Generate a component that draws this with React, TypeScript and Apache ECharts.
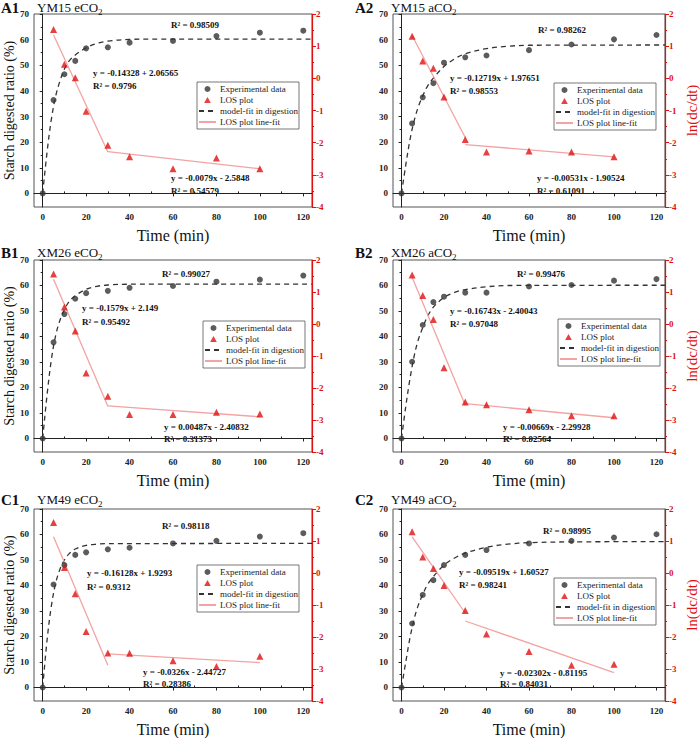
import React, { useEffect, useRef } from 'react';
import * as echarts from 'echarts';

// ---------- data ----------
const TIMES = [0, 5, 10, 15, 20, 30, 40, 60, 80, 100, 120];
const LOS_TIMES = [5, 10, 15, 20, 30, 40, 60, 80, 100];
const X_TICKS = [0, 20, 40, 60, 80, 100, 120];
const X_MINOR = [10, 30, 50, 70, 90, 110];
const LEFT_TICKS = [0, 10, 20, 30, 40, 50, 60, 70];
const LEFT_MINOR = [5, 15, 25, 35, 45, 55, 65];
const RIGHT_TICKS = [-4, -3, -2, -1, 0, 1, 2];
const RIGHT_MINOR = [-3.5, -2.5, -1.5, -0.5, 0.5, 1.5];
const LEGEND_NAMES = ['Experimental data', 'LOS plot', 'model-fit in digestion', 'LOS plot line-fit'];

// A1 YM15 eCO2
const A1_DIGEST = [0, 36.4, 46.5, 51.7, 56.6, 57.0, 58.8, 59.5, 61.4, 62.7, 63.5];
const A1_LOS = [1.52, 0.44, 0.02, -1.02, -2.08, -2.44, -2.81, -2.48, -2.81];
const A1_FIT1 = [[5, 1.35], [30, -2.29]];
const A1_FIT2 = [[30, -2.28], [100, -2.81]];
const A1_MODEL_T = [0, 2, 4, 6, 8, 10, 12, 15, 20, 25, 30, 40, 50, 124];
const A1_MODEL = [0, 16, 29, 38, 44, 48.5, 51.5, 54, 56.8, 58.5, 59.4, 60.1, 60.2, 60.2];

// A2 YM15 aCO2
const A2_DIGEST = [0, 27.3, 37.5, 43, 51, 53.1, 53.8, 55.9, 58.1, 60.1, 61.8];
const A2_LOS = [1.31, 0.54, 0.31, -0.58, -1.9, -2.29, -2.26, -2.29, -2.44];
const A2_FIT1 = [[5, 1.33], [30, -1.84]];
const A2_FIT2 = [[30, -2.06], [100, -2.44]];
const A2_MODEL_T = [0, 2, 4, 6, 8, 10, 12, 15, 20, 25, 30, 40, 50, 60, 124];
const A2_MODEL = [0, 11, 21, 28.5, 34, 38, 41.5, 45, 49.5, 52.5, 54.5, 56.5, 57.4, 57.8, 57.9];

// B1 XM26 eCO2
const B1_DIGEST = [0, 37.7, 48.8, 54.8, 57, 57.9, 59.1, 59.8, 61.5, 62.3, 63.9];
const B1_LOS = [1.56, 0.53, -0.22, -1.53, -2.26, -2.83, -2.83, -2.76, -2.81];
const B1_FIT1 = [[5, 1.4], [30, -2.57]];
const B1_FIT2 = [[30, -2.56], [100, -2.9]];
const B1_MODEL_T = [0, 2, 4, 6, 8, 10, 12, 15, 20, 25, 30, 40, 124];
const B1_MODEL = [0, 17, 31, 40.5, 46.5, 50.5, 53.5, 56, 58.5, 59.7, 60.2, 60.5, 60.5];

// B2 XM26 aCO2
const B2_DIGEST = [0, 30.1, 44.5, 53.5, 55.6, 57.2, 57.2, 59.6, 60.2, 61.9, 62.5];
const B2_LOS = [1.53, 0.89, 0.14, -1.37, -2.44, -2.52, -2.68, -2.87, -2.87];
const B2_FIT1 = [[5, 1.46], [30, -2.54]];
const B2_FIT2 = [[30, -2.49], [100, -2.93]];
const B2_MODEL_T = [0, 2, 4, 6, 8, 10, 12, 15, 20, 25, 30, 40, 50, 124];
const B2_MODEL = [0, 12.5, 23.5, 32.5, 39, 43.5, 47.5, 51.5, 55.3, 57.3, 58.4, 59.5, 60, 60.1];

// C1 YM49 eCO2
const C1_DIGEST = [0, 40.4, 48, 52, 53, 54.2, 54.8, 56.5, 57.5, 59.2, 60.5];
const C1_LOS = [1.58, 0.17, -0.65, -1.83, -2.5, -2.51, -2.74, -2.92, -2.6];
const C1_FIT1 = [[5, 1.13], [30, -2.88]];
const C1_FIT2 = [[30, -2.53], [100, -2.8]];
const C1_MODEL_T = [0, 2, 4, 6, 8, 10, 12, 15, 20, 25, 30, 124];
const C1_MODEL = [0, 18.5, 32, 41, 46.5, 50, 52.3, 54.3, 55.7, 56.2, 56.4, 56.5];

// C2 YM49 aCO2
const C2_DIGEST = [0, 25.1, 36.3, 42.1, 48, 52, 53.9, 56.5, 57.5, 58.8, 60.1];
const C2_LOS = [1.29, 0.5, 0.14, -0.39, -1.17, -1.91, -2.45, -2.88, -2.85];
const C2_FIT1 = [[5, 1.13], [30, -1.25]];
const C2_FIT2 = [[30, -1.5], [100, -3.11]];
const C2_MODEL_T = [0, 2, 4, 6, 8, 10, 12, 15, 20, 25, 30, 40, 50, 60, 80, 124];
const C2_MODEL = [0, 10, 19.5, 27, 32.5, 36.5, 40, 43.5, 48, 50.8, 52.7, 55, 56.2, 56.8, 57.1, 57.2];

const PANEL_IDS = ['A1', 'A2', 'B1', 'B2', 'C1', 'C2'];
const PANEL_NAMES = ['YM15 eCO', 'YM15 aCO', 'XM26 eCO', 'XM26 aCO', 'YM49 eCO', 'YM49 aCO'];
const NOTES = [
  ['R² = 0.98509', 'y = -0.14328 + 2.06565', 'R² = 0.9796', 'y = -0.0079x - 2.5848', 'R² = 0.54579'],
  ['R² = 0.98262', 'y = -0.12719x + 1.97651', 'R² = 0.98553', 'y = -0.00531x - 1.90524', 'R² = 0.61091'],
  ['R² = 0.99027', 'y = -0.1579x + 2.149', 'R² = 0.95492', 'y = 0.00487x - 2.40832', 'R² = 0.31373'],
  ['R² = 0.99476', 'y = -0.16743x - 2.40043', 'R² = 0.97048', 'y = -0.00669x - 2.29928', 'R² = 0.92564'],
  ['R² = 0.98118', 'y = -0.16128x + 1.9293', 'R² = 0.9312', 'y = -0.0326x - 2.44727', 'R² = 0.28386'],
  ['R² = 0.98995', 'y = -0.09519x + 1.60527', 'R² = 0.98241', 'y = -0.02302x - 0.81195', 'R² = 0.84031'],
];

const DATA = [
  { digest: A1_DIGEST, los: A1_LOS, fit1: A1_FIT1, fit2: A1_FIT2, mt: A1_MODEL_T, mv: A1_MODEL },
  { digest: A2_DIGEST, los: A2_LOS, fit1: A2_FIT1, fit2: A2_FIT2, mt: A2_MODEL_T, mv: A2_MODEL },
  { digest: B1_DIGEST, los: B1_LOS, fit1: B1_FIT1, fit2: B1_FIT2, mt: B1_MODEL_T, mv: B1_MODEL },
  { digest: B2_DIGEST, los: B2_LOS, fit1: B2_FIT1, fit2: B2_FIT2, mt: B2_MODEL_T, mv: B2_MODEL },
  { digest: C1_DIGEST, los: C1_LOS, fit1: C1_FIT1, fit2: C1_FIT2, mt: C1_MODEL_T, mv: C1_MODEL },
  { digest: C2_DIGEST, los: C2_LOS, fit1: C2_FIT1, fit2: C2_FIT2, mt: C2_MODEL_T, mv: C2_MODEL },
];

// ---------- layout ----------
const GRIDS = [
  { left: 34, top: 14, width: 278, height: 193 },
  { left: 393, top: 14, width: 277, height: 193 },
  { left: 34, top: 260, width: 278, height: 192 },
  { left: 393, top: 260, width: 277, height: 192 },
  { left: 34, top: 509, width: 278, height: 192 },
  { left: 393, top: 509, width: 277, height: 192 },
];
const LEGEND_POS = [
  [197, 82], [554, 83], [203, 321], [558, 319], [197, 565], [554, 578],
];
const LABEL_POS = [
  [1, 0], [355, 0], [1, 245], [355, 245], [1, 492], [355, 492],
];
// [x, y] of the 5 annotation lines
const NOTE_POS = [
  [[171, 25], [93, 73], [93, 86], [171, 178], [171, 191]],
  [[538, 30], [450, 78], [450, 91], [537, 178], [537, 191]],
  [[162, 274], [82, 308], [82, 322], [164, 427], [164, 439]],
  [[517, 274], [450, 311], [450, 324], [503, 427], [503, 439]],
  [[162, 526], [87, 573], [87, 587], [143, 672], [143, 684]],
  [[543, 531], [459, 572], [459, 585], [500, 673], [500, 684]],
];

const SERIF = "'Liberation Serif', 'Times New Roman', serif";
const RED = '#e01010';
const INK = '#222';
const TRI = 'path://M5,0 L10,9 L0,9 Z';

function buildOption() {
  const grid: any[] = [];
  const xAxis: any[] = [];
  const yAxis: any[] = [];
  const series: any[] = [];
  const legend: any[] = [];
  const graphic: any[] = [];

  PANEL_IDS.forEach((pid, i) => {
    const isLeft = i % 2 === 0;
    const g = GRIDS[i];
    grid.push({ ...g, show: true, borderColor: '#555', borderWidth: 1, backgroundColor: 'transparent' });

    const baseX = {
      gridIndex: i, type: 'value', min: -4, max: 124, splitLine: { show: false },
    };
    xAxis.push({
      ...baseX,
      axisLine: { show: true, lineStyle: { color: INK, width: 1 } },
      axisTick: { show: true, customValues: X_TICKS, length: 3, lineStyle: { color: INK } },
      axisLabel: { customValues: X_TICKS, fontFamily: SERIF, fontWeight: 'bold', fontSize: 9, color: INK, margin: 5 },
      name: 'Time (min)', nameLocation: 'middle', nameGap: 20,
      nameTextStyle: { fontFamily: SERIF, fontSize: 16, color: '#111' },
    });
    xAxis.push({
      ...baseX,
      axisLine: { show: false },
      axisTick: { show: true, customValues: X_MINOR, length: 2, lineStyle: { color: INK } },
      axisLabel: { show: false },
    });

    const baseL = { gridIndex: i, type: 'value', position: 'left', min: -5.3, max: 70, splitLine: { show: false } };
    yAxis.push({
      ...baseL,
      axisLine: { show: true, lineStyle: { color: INK, width: 1 } },
      axisTick: { show: true, customValues: LEFT_TICKS, length: 3, lineStyle: { color: INK } },
      axisLabel: { customValues: LEFT_TICKS, fontFamily: SERIF, fontWeight: 'bold', fontSize: 9, color: INK, margin: 5 },
      ...(isLeft
        ? {
            name: 'Starch digested ratio (%)', nameLocation: 'middle', nameGap: 12,
            nameTextStyle: { fontFamily: SERIF, fontSize: 14, color: '#111' },
          }
        : {}),
    });
    yAxis.push({
      ...baseL,
      axisLine: { show: false },
      axisTick: { show: true, customValues: LEFT_MINOR, length: 2, lineStyle: { color: INK } },
      axisLabel: { show: false },
    });
    const baseR = { gridIndex: i, type: 'value', position: 'right', min: -4, max: 2, splitLine: { show: false } };
    yAxis.push({
      ...baseR,
      axisLine: { show: true, lineStyle: { color: RED, width: 1.2 } },
      axisTick: { show: true, customValues: RIGHT_TICKS, length: 4, lineStyle: { color: RED } },
      axisLabel: { customValues: RIGHT_TICKS, fontFamily: SERIF, fontWeight: 'bold', fontSize: 9, color: RED, margin: 4 },
      ...(!isLeft
        ? {
            name: 'ln(dc/dt)', nameLocation: 'middle', nameGap: 19,
            nameTextStyle: { fontFamily: SERIF, fontSize: 15, color: RED },
          }
        : {}),
    });
    yAxis.push({
      ...baseR,
      axisLine: { show: false },
      axisTick: { show: true, customValues: RIGHT_MINOR, length: 2, lineStyle: { color: RED } },
      axisLabel: { show: false },
    });

    const d = DATA[i];
    const xi = 2 * i;
    const yl = 4 * i;
    const yr = 4 * i + 2;
    series.push({
      type: 'line', name: 'model-fit in digestion', xAxisIndex: xi, yAxisIndex: yl,
      data: d.mt.map((t, k) => [t, d.mv[k]]), smooth: 0.35, symbol: 'none', showSymbol: false,
      lineStyle: { color: '#333', width: 1.3, type: [5, 4] }, itemStyle: { color: '#333' }, z: 2,
    });
    [d.fit1, d.fit2].forEach((f) => {
      series.push({
        type: 'line', name: 'LOS plot line-fit', xAxisIndex: xi, yAxisIndex: yr,
        data: f, symbol: 'none', showSymbol: false,
        lineStyle: { color: '#f3a3a3', width: 1.3 }, itemStyle: { color: '#f3a3a3' }, z: 2,
      });
    });
    series.push({
      type: 'scatter', name: 'Experimental data', xAxisIndex: xi, yAxisIndex: yl,
      data: TIMES.map((t, k) => [t, d.digest[k]]), symbol: 'circle', symbolSize: 6,
      itemStyle: { color: '#333' }, z: 3,
    });
    series.push({
      type: 'scatter', name: 'LOS plot', xAxisIndex: xi, yAxisIndex: yr,
      data: LOS_TIMES.map((t, k) => [t, d.los[k]]), symbol: 'triangle', symbolSize: 7,
      itemStyle: { color: RED }, z: 4,
    });

    legend.push({
      left: LEGEND_POS[i][0], top: LEGEND_POS[i][1], orient: 'vertical',
      data: [
        { name: LEGEND_NAMES[0], icon: 'circle' },
        { name: LEGEND_NAMES[1], icon: TRI },
        { name: LEGEND_NAMES[2], itemStyle: { opacity: 0 } },
        { name: LEGEND_NAMES[3], itemStyle: { opacity: 0 } },
      ],
      itemWidth: 17, itemHeight: 6, itemGap: 1, padding: [2, 1, 2, 1],
      borderColor: '#555', borderWidth: 0.8, selectedMode: false,
      textStyle: { fontFamily: SERIF, fontSize: 9, lineHeight: 10, color: INK, padding: [0, 0, 0, -1] },
    });

    // panel label
    graphic.push({
      type: 'text', x: LABEL_POS[i][0], y: LABEL_POS[i][1],
      style: { text: pid, font: `bold 15px ${SERIF}`, fill: '#111', align: 'left', verticalAlign: 'top' },
    });
    graphic.push({
      type: 'text', x: LABEL_POS[i][0] + 36, y: LABEL_POS[i][1] - 1,
      style: {
        text: `{a|${PANEL_NAMES[i]}}{s|2}`, fill: '#111', align: 'left', verticalAlign: 'top',
        rich: {
          a: { fontFamily: SERIF, fontSize: 13, lineHeight: 17, verticalAlign: 'middle', fill: '#111' },
          s: { fontFamily: SERIF, fontSize: 9, lineHeight: 7, verticalAlign: 'bottom', fill: '#111' },
        },
      },
    });
    NOTES[i].forEach((txt, k) => {
      const p = NOTE_POS[i][k];
      graphic.push({
        type: 'text', x: p[0], y: p[1],
        style: { text: txt, font: `bold 9px ${SERIF}`, fill: '#111', verticalAlign: 'middle', align: 'left' },
      });
    });
  });

  return { animation: false, backgroundColor: '#fff', grid, xAxis, yAxis, series, legend, graphic };
}

export default function App() {
  const ref = useRef<HTMLDivElement>(null);
  useEffect(() => {
    if (!ref.current) return;
    const chart = echarts.init(ref.current, undefined, { renderer: 'svg' });
    chart.setOption(buildOption() as any);
    return () => chart.dispose();
  }, []);
  return (
    <div
      ref={ref}
      style={{ position: 'absolute', left: 0, top: 0, width: 700, height: 738, background: '#fff' }}
    />
  );
}
